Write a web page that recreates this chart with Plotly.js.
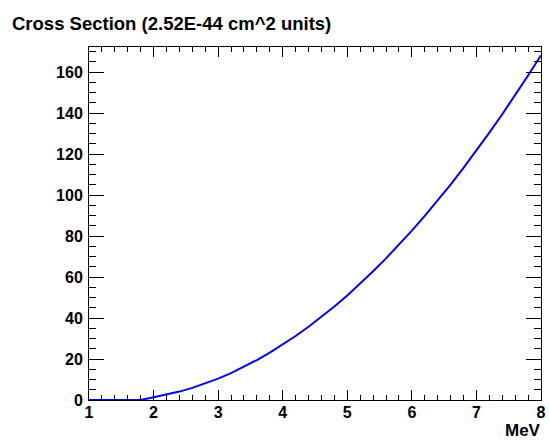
<!DOCTYPE html>
<html>
<head>
<meta charset="utf-8">
<script src="https://cdn.plot.ly/plotly-3.0.1.min.js"></script>
<style>
  html, body { margin: 0; padding: 0; background: #fff; }
  #chart { width: 549px; height: 443px; }
</style>
</head>
<body>
<div id="chart"></div>
<script>
// Neutrino energy (MeV) and cross section (units of 2.52E-44 cm^2)
const energyMeV = [1.0, 1.2, 1.4, 1.6, 1.8, 2.0, 2.2, 2.4, 2.6, 2.8, 3.0, 3.2, 3.4, 3.6, 3.8,
                   4.0, 4.2, 4.4, 4.6, 4.8, 5.0, 5.2, 5.4, 5.6, 5.8, 6.0, 6.2, 6.4, 6.6, 6.8,
                   7.0, 7.2, 7.4, 7.6, 7.8, 8.0];
const crossSection = [0, 0, 0, 0, 0, 1.3, 2.6, 4.1, 5.9, 8.0, 10.4, 13.1, 16.2, 19.5, 23.1,
                      27.0, 31.2, 35.7, 40.5, 45.6, 51.0, 56.8, 62.8, 69.1, 75.7, 82.6, 89.8, 97.3, 105.1, 113.2,
                      121.7, 130.4, 139.4, 148.7, 158.3, 168.2];
const xTicks = [1, 2, 3, 4, 5, 6, 7, 8];
const yTicks = [0, 20, 40, 60, 80, 100, 120, 140, 160];

const font = 'Liberation Sans, Arial, sans-serif';
const W = 549, H = 443;

const trace = {
  x: energyMeV,
  y: crossSection,
  type: 'scatter',
  mode: 'lines',
  line: { color: '#0000ff', width: 2 },
  hoverinfo: 'x+y'
};

const layout = {
  width: W,
  height: H,
  margin: { l: 89, r: 8, t: 47, b: 43 },
  paper_bgcolor: '#ffffff',
  plot_bgcolor: '#ffffff',
  showlegend: false,
  font: { family: font, color: '#000', size: 16 },
  title: {
    text: '<b>Cross Section (2.52E-44 cm^2 units)</b>',
    font: { family: font, size: 18.5, color: '#000' },
    xref: 'container', x: 12 / W, xanchor: 'left',
    yref: 'container', y: 1 - 30 / H, yanchor: 'bottom'
  },
  xaxis: {
    range: [1, 8],
    tickvals: xTicks,
    ticktext: xTicks.map(v => '<b>' + v + '</b>'),
    ticks: 'inside', ticklen: 10, tickwidth: 1, tickcolor: '#000',
    minor: { dtick: 0.2, ticks: 'inside', ticklen: 5, tickcolor: '#000', tickwidth: 1 },
    showline: true, linecolor: '#000', linewidth: 1, mirror: 'allticks',
    showgrid: false, zeroline: false,
    tickfont: { family: font, size: 16, color: '#000' },
    ticklabelstandoff: -2
  },
  yaxis: {
    range: [0, 172.2],
    tickvals: yTicks,
    ticktext: yTicks.map(v => '<b>' + v + '</b>'),
    ticks: 'inside', ticklen: 15, tickwidth: 1, tickcolor: '#000',
    minor: { dtick: 5, ticks: 'inside', ticklen: 7, tickcolor: '#000', tickwidth: 1 },
    showline: true, linecolor: '#000', linewidth: 1, mirror: 'allticks',
    showgrid: false, zeroline: false,
    tickfont: { family: font, size: 16, color: '#000' },
    ticklabelstandoff: 2
  },
  annotations: [{
    text: '<b>MeV</b>',
    xref: 'paper', yref: 'paper',
    x: 1, y: 0, xanchor: 'right', yanchor: 'top',
    xshift: 2, yshift: -19, showarrow: false,
    font: { family: font, size: 17, color: '#000' }
  }]
};

Plotly.newPlot('chart', [trace], layout, { displayModeBar: false, staticPlot: true });
</script>
</body>
</html>
